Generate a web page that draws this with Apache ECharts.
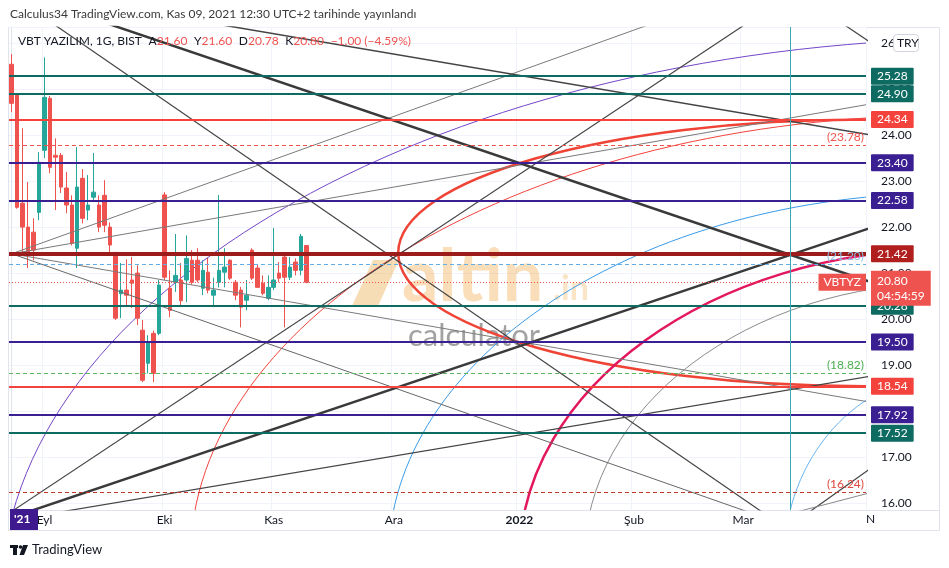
<!DOCTYPE html>
<html><head><meta charset="utf-8">
<script src="https://cdn.jsdelivr.net/npm/echarts@6/dist/echarts.min.js"></script>
<style>html,body{margin:0;padding:0;background:#fff}#c{width:949px;height:568px}</style>
</head><body><div id="c"></div>
<script>
// ---------- data ----------
const candleDates = ['2021-08-23','2021-08-24','2021-08-25','2021-08-26','2021-08-27','2021-08-31',
 '2021-09-01','2021-09-02','2021-09-03','2021-09-06','2021-09-07','2021-09-08','2021-09-09','2021-09-10',
 '2021-09-13','2021-09-14','2021-09-15','2021-09-16','2021-09-17','2021-09-20','2021-09-21','2021-09-22',
 '2021-09-23','2021-09-24','2021-09-27','2021-09-28','2021-09-29','2021-09-30',
 '2021-10-01','2021-10-04','2021-10-05','2021-10-06','2021-10-07','2021-10-08','2021-10-11','2021-10-12',
 '2021-10-13','2021-10-14','2021-10-15','2021-10-18','2021-10-19','2021-10-20','2021-10-21','2021-10-22',
 '2021-10-25','2021-10-26','2021-10-27','2021-10-28',
 '2021-11-01','2021-11-02','2021-11-03','2021-11-04','2021-11-05','2021-11-08','2021-11-09'];
const opens  = [25.54,24.87,22.52,22.00,21.89,22.32,23.67,24.80,23.56,23.56,22.85,22.48,21.54,23.06,22.37,22.65,22.48,22.69,22.00,21.45,
  20.55,20.63,20.85,21.00,19.76,19.04,19.69,19.69,22.70,20.67,20.80,20.85,20.85,21.28,21.28,20.67,21.02,20.52,20.80,21.02,
  21.28,20.80,20.63,20.41,21.50,21.11,20.78,20.45,20.69,21.00,21.35,20.91,21.24,21.06,21.60];
const closes = [24.69,22.43,22.00,21.43,21.50,23.41,24.82,23.30,23.52,22.87,22.48,21.65,22.87,22.19,22.48,22.76,22.00,22.04,21.61,20.02,
  20.63,20.52,20.78,20.02,18.67,19.50,18.82,20.74,20.91,20.19,20.95,20.40,21.32,20.80,20.85,21.06,20.63,20.63,21.06,21.13,
  20.89,20.52,20.26,20.52,20.89,20.69,20.56,20.69,20.85,20.89,20.91,21.13,21.06,21.80,20.80];
const lows   = [24.50,22.40,21.39,21.11,21.28,22.15,23.50,23.17,22.37,22.74,22.30,21.60,21.11,22.08,22.15,22.59,21.89,21.89,21.40,19.98,
  20.02,20.26,20.24,19.87,18.63,18.82,18.63,19.65,20.85,20.04,20.59,20.26,20.37,20.75,20.80,20.52,20.56,20.26,20.69,20.69,
  20.85,20.41,19.82,20.19,20.85,20.69,20.52,20.41,20.63,20.80,19.82,20.85,20.95,20.95,20.78];
const highs  = [25.76,24.90,24.15,22.98,22.19,23.63,25.69,24.85,23.93,23.61,23.20,22.69,23.74,23.26,23.13,23.61,22.69,23.02,22.10,21.45,
  21.22,21.30,21.35,21.17,19.98,19.65,19.75,20.85,22.76,21.06,21.85,21.22,21.82,21.50,21.54,21.28,21.33,20.90,22.70,21.54,
  21.30,20.85,20.70,20.85,21.54,21.20,20.95,20.95,21.98,21.24,21.43,21.35,21.32,21.85,21.60];
const axisEndDate = '2022-03-31';
const monthTicks = {'2021-09-01':'Eyl','2021-10-01':'Eki','2021-11-01':'Kas','2021-12-01':'Ara',
  '2022-01-03':'2022','2022-02-01':'Şub','2022-03-01':'Mar'};
const yMin = 15.85, yMax = 26.35;

// horizontal price levels
const levelValues = [25.28, 24.90, 24.34, 23.40, 22.58, 21.42, 20.28, 19.50, 18.54, 17.92, 17.52];
const dashedValues = [23.78, 21.20, 18.82, 16.24];
const lastPrice = 20.80;
const countdownText = '04:54:59';
const symbolText = 'VBTYZ';
// drawn trend lines: [barIndex, price] -> [barIndex, price]
const trendLines = [
  [[0,21.42],[150,27.82]], [[0,21.42],[156.5,24.66]], [[0,21.42],[156.5,18.21]], [[0,21.42],[150,15.18]],
  [[0,27.13],[160,20.70]], [[0,27.04],[140,15.60]], [[0,27.17],[160,23.95]], [[0,15.82],[140,26.85]],
  [[0,15.69],[160,22.09]], [[0,15.63],[160,18.81]], [[140,15.29],[160,16.98]], [[140,15.69],[160,16.31]],
  [[140,27.40],[160,25.80]]
];
// drawn arcs: [centre bar, centre price, radius in bars, radius in price]
const arcs = [
  [156.5,21.44,85.7,2.90], [181.0,13.89,183.0,12.22], [171.9,14.76,139.2,9.67], [171.9,14.76,102.9,7.98],
  [171.9,14.76,78.9,6.76], [171.9,14.76,67.0,6.03], [171.9,14.76,30.4,4.03]
];
const verticalLineBar = 142.6;

// ---------- styles ----------
const FONT = 'Lato, "Liberation Sans", sans-serif';
const TEAL='#0e6b61', PURP='#3a1f92', RED='#f4433c';
const levelColors = [TEAL,TEAL,RED,PURP,PURP,'#9c1c1c',TEAL,PURP,RED,PURP,TEAL];
const levelTagColors = [TEAL,TEAL,RED,PURP,PURP,'#b01e1e',TEAL,PURP,RED,PURP,TEAL];
const levelWidths = [2,2,2,2,2,4,2,2,2,2,2];
const dashedColors = ['#f0554b','#64aee8','#5cb85c','#c0392b'];
const dashedTextColors = ['#f0554b','#8fbfe8','#4caf50','#e0483e'];
const trendStyles = [
  ['#7a7a7a',1],['#7a7a7a',1],['#7a7a7a',1],['#666',1],
  ['#3a3a3a',2.5],['#444',1.2],['#444',1.5],['#444',1.2],
  ['#3a3a3a',2.5],['#444',1.2],['#444',1.2],['#888',1],['#444',1.2]
];
const arcStyles = [['#ef4336',2.5],['#7446c9',1],['#f4433c',1],['#3a9be8',1],['#e3175e',2.5],['#8a8a8a',1],['#6ab4f0',1]];

// ---------- axis categories ----------
const allDates = candleDates.slice();
(function(){
  let d = new Date(candleDates[candleDates.length-1]+'T00:00:00Z');
  const end = new Date(axisEndDate+'T00:00:00Z');
  while (true) {
    d = new Date(d.getTime()+86400000);
    if (d > end) break;
    const wd = d.getUTCDay();
    if (wd===0 || wd===6) continue;
    allDates.push(d.toISOString().slice(0,10));
  }
})();
const nBars = allDates.length;
const candleData = opens.map((o,i)=>[o, closes[i], lows[i], highs[i]]);

// ---------- mark lines ----------
const markData = [];
levelValues.forEach((v,i)=>markData.push({
  yAxis:v, lineStyle:{color:levelColors[i], width:levelWidths[i], type:'solid'},
  label:{show:true, position:'end', distance:5, formatter:v.toFixed(2), backgroundColor:levelTagColors[i],
    color:'#fff', padding:[3,6,2,6], fontSize:12, fontFamily:FONT, borderRadius:1}
}));
dashedValues.forEach((v,i)=>markData.push({
  yAxis:v, lineStyle:{color:dashedColors[i], width:1, type:[4,3]},
  label:{show:true, position:'insideEndTop', formatter:'('+v.toFixed(2)+')', color:dashedTextColors[i],
    fontSize:12, fontFamily:FONT, distance:[2,2]}
}));
markData.push({
  yAxis:lastPrice, lineStyle:{color:'#ef5350', width:1, type:[1,2]},
  label:{show:true, position:'end', distance:5, formatter:lastPrice.toFixed(2)+'\n'+countdownText,
    backgroundColor:'#ef5350', color:'#fff', padding:[3,6,2,6], fontSize:12, lineHeight:15, fontFamily:FONT, offset:[0,6]}
});
markData.push({
  yAxis:lastPrice, lineStyle:{color:'#ef5350', width:1, type:[1,2]},
  label:{show:true, position:'insideEnd', distance:0, formatter:symbolText,
    backgroundColor:'#ef5350', color:'#fff', padding:[3,5,2,5], fontSize:12, fontFamily:FONT}
});

// ---------- series ----------
const series = [{
  type:'candlestick', xAxisIndex:0, yAxisIndex:0, data:candleData, barWidth:4,
  itemStyle:{color:'#26a69a', color0:'#ef5350', borderColor:'#26a69a', borderColor0:'#ef5350', borderWidth:1},
  markLine:{silent:true, symbol:['none','none'], animation:false, data:markData}
}];
arcs.forEach((a,i)=>series.push({
  type:'custom', xAxisIndex:1, yAxisIndex:0, clip:true, silent:true, data:[a],
  encode:{x:0,y:1},
  renderItem:function(params, api){
    const c = api.coord([api.value(0), api.value(1)]);
    const e = api.coord([api.value(0)+api.value(2), api.value(1)-api.value(3)]);
    return {type:'ellipse', shape:{cx:c[0], cy:c[1], rx:Math.abs(e[0]-c[0]), ry:Math.abs(e[1]-c[1])},
      style:{fill:'none', stroke:arcStyles[i][0], lineWidth:arcStyles[i][1]}};
  }
}));
trendLines.forEach((t,i)=>series.push({
  type:'line', xAxisIndex:1, yAxisIndex:0, data:t, showSymbol:false, symbol:'none', clip:true, silent:true,
  lineStyle:{color:trendStyles[i][0], width:trendStyles[i][1]},
  markLine: i===0 ? {silent:true, symbol:['none','none'], label:{show:false},
    data:[{xAxis:verticalLineBar, lineStyle:{color:'#3aa7b5', width:1, type:'solid'}}]} : undefined
}));

const isTick = (i,v)=>!!monthTicks[v];
const option = {
  animation:false,
  backgroundColor:'#ffffff',
  grid:{left:9, right:83, top:27, bottom:58},
  xAxis:[{
    type:'category', data:allDates, boundaryGap:true,
    axisLine:{show:true, lineStyle:{color:'#e0e3eb'}}, axisTick:{show:false},
    axisLabel:{interval:isTick, formatter:v=> v==='2022-01-03' ? '{b|2022}' : (monthTicks[v]||''),
      color:'#131722', fontSize:12, fontFamily:FONT, margin:4,
      rich:{b:{fontWeight:'bold', fontSize:12, fontFamily:FONT, color:'#131722'}}},
    splitLine:{show:true, interval:isTick, lineStyle:{color:'#f0f3fa'}}
  },{
    type:'value', min:-0.5, max:nBars-0.5, show:false
  }],
  yAxis:{
    type:'value', position:'right', min:yMin, max:yMax, minInterval:1, maxInterval:1, splitNumber:10, scale:true,
    axisLine:{show:true, lineStyle:{color:'#e0e3eb'}}, axisTick:{show:false},
    axisLabel:{formatter:v=>v.toFixed(2), showMinLabel:false, showMaxLabel:false, color:'#131722',
      fontSize:12, fontFamily:FONT, margin:15},
    splitLine:{show:true, lineStyle:{color:'#f0f3fa'}}
  },
  series:series,
  graphic:[
    {type:'rect', z:-10, shape:{x:8.5,y:27.5,width:931,height:503}, style:{fill:'none', stroke:'#e0e3eb', lineWidth:1}},
    {type:'line', z:-10, shape:{x1:8,y1:510.5,x2:940,y2:510.5}, style:{stroke:'#e0e3eb', lineWidth:1}},
    {type:'text', left:10, top:8, style:{text:'Calculus34 TradingView.com, Kas 09, 2021 12:30 UTC+2 tarihinde yayınlandı',
      font:'12px '+FONT, fill:'#3a3a3a'}},
    {type:'text', left:18, top:35, z:50, style:{
      text:'{n|VBT YAZILIM, 1G, BIST}  {k|A}{v|21.60}  {k|Y}{v|21.60}  {k|D}{v|20.78}  {k|K}{v|20.80}  {v|−1.00 (−4.59%)}',
      rich:{n:{fill:'#131722', font:'12px '+FONT}, k:{fill:'#131722', font:'12px '+FONT}, v:{fill:'#ef5350', font:'12px '+FONT}}}},
    // watermark
    {type:'polygon', z:1, shape:{points:[[352,306],[373,260],[399,260],[378,306]]}, style:{fill:'rgba(235,165,60,0.38)'}},
    {type:'text', z:1, left:402, top:242, style:{text:'altin', font:'bold 72px '+FONT, fill:'rgba(238,168,70,0.38)'}},
    {type:'text', z:1, left:553, top:272, style:{text:'.in', font:'bold 34px '+FONT, fill:'rgba(238,168,70,0.3)'}},
    {type:'text', z:1, left:408, top:320, style:{text:'calculator', font:'31px '+FONT, fill:'rgba(100,100,100,0.6)'}},
    // axis decorations
    {type:'rect', z:100, shape:{x:10,y:509,width:28,height:21}, style:{fill:'#3f1a8f'}},
    {type:'text', z:101, left:14, top:513, style:{text:"'21", font:'bold 12px '+FONT, fill:'#fff'}},
    {type:'text', z:5, left:866, top:513, style:{text:'N', font:'12px '+FONT, fill:'#131722'}},
    {type:'rect', z:100, shape:{x:893.5,y:34.5,width:25,height:17,r:3}, style:{fill:'#fff', stroke:'#d1d4dc', lineWidth:1}},
    {type:'text', z:101, left:897, top:37, style:{text:'TRY', font:'12px '+FONT, fill:'#131722'}},
    // footer logo
    {type:'rect', z:10, shape:{x:10,y:545,width:8,height:3}, style:{fill:'#131722'}},
    {type:'rect', z:10, shape:{x:13,y:545,width:4,height:10}, style:{fill:'#131722'}},
    {type:'circle', z:10, shape:{cx:20.5,cy:547,r:1.8}, style:{fill:'#131722'}},
    {type:'polygon', z:10, shape:{points:[[23,545],[28,545],[24,555],[19.5,555]]}, style:{fill:'#131722'}},
    {type:'text', z:10, left:32, top:543, style:{text:'TradingView', font:'13px '+FONT, fill:'#131722'}}
  ]
};
const chart = echarts.init(document.getElementById('c'), null, {renderer:'canvas'});
chart.setOption(option);
</script></body></html>
